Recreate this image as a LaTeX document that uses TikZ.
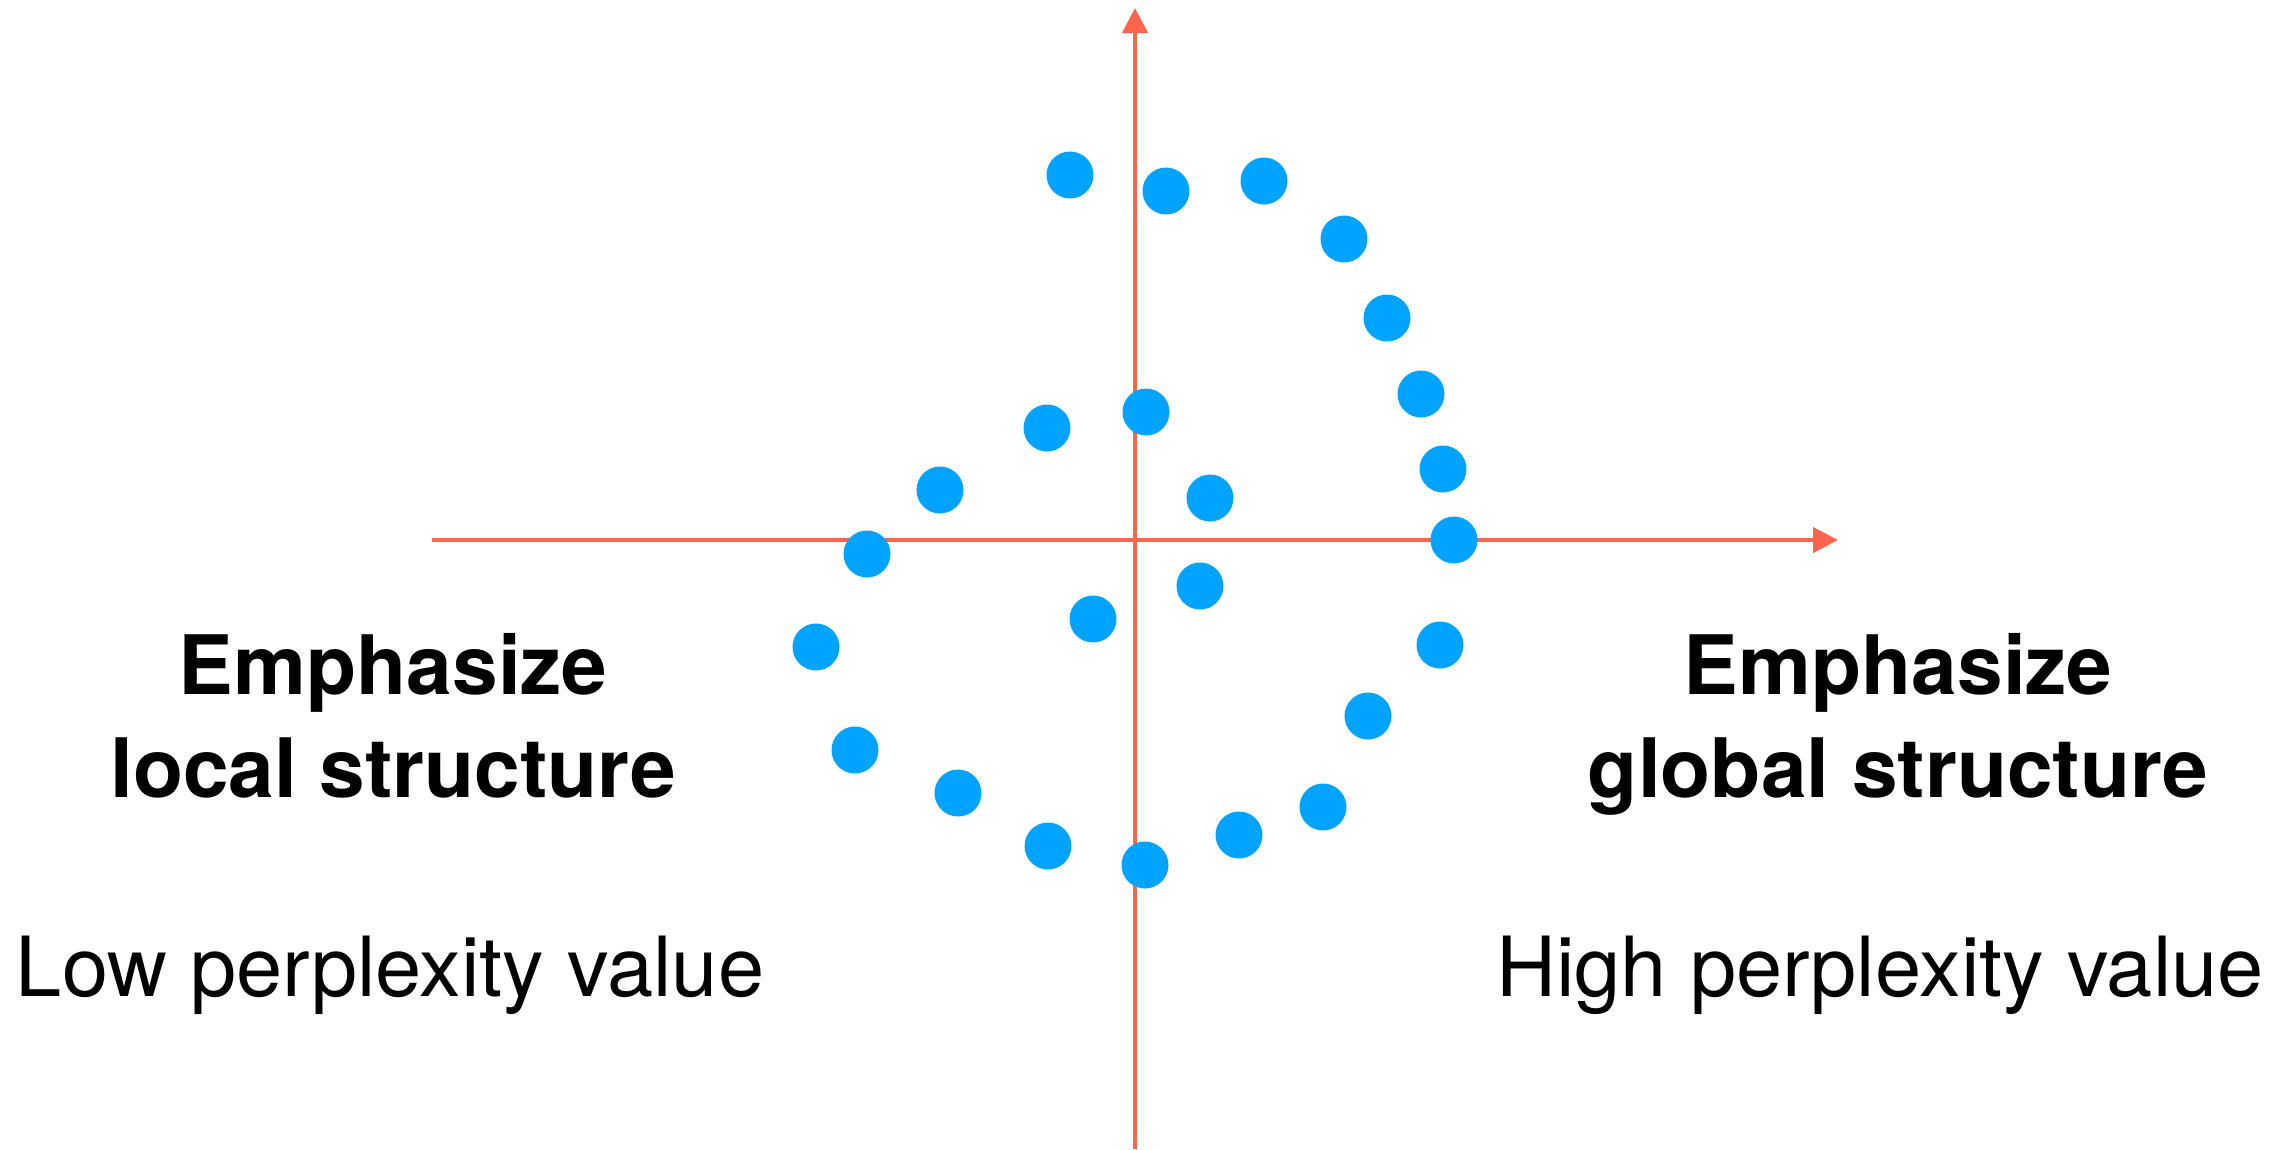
\documentclass[tikz,border=0pt]{standalone}
\usepackage{fontspec}
\setmainfont{TeX Gyre Heros}
\usetikzlibrary{arrows.meta}
\definecolor{axiscol}{RGB}{255,100,78}
\definecolor{dotcol}{RGB}{0,163,255}
\begin{document}
\begin{tikzpicture}[x=1pt,y=-1pt,
  dot/.style={circle,fill=dotcol,draw=none,minimum size=47pt,inner sep=0pt},
  axis/.style={draw=axiscol,line width=4.5pt,-{Triangle[length=25pt,width=25pt]}},
  boldlbl/.style={inner sep=0pt,anchor=base,font=\bfseries\fontsize{82}{98}\selectfont},
  thinlbl/.style={inner sep=0pt,anchor=base,font=\fontsize{83}{100}\selectfont}]
\useasboundingbox (0,0) rectangle (2287,1149);
\coordinate (yb) at (1135,1149);
\coordinate (yt) at (1135,8);
\coordinate (xl) at (432,540);
\coordinate (xr) at (1838,540);
\draw[axis] (yb) -- (yt);
\draw[axis] (xl) -- (xr);
\foreach \px/\py [count=\i] in {1070/175,1166/191,1264/181,1344/239,1387/318,1421/394,1443/469,1454/540,1440/645,1368/716,1323/807,1239/835,1145/865,1048/846,958/793,855/750,816/647,867/554,940/490,1047/428,1146/412,1210/498,1200/586,1093/619}
  \node[dot] (d\i) at (\px,\py) {};
\node[boldlbl] (l1) at (393,694) {Emphasize};
\node[boldlbl] (l2) at (393,797) {local structure};
\node[thinlbl] (l3) at (390,996) {Low perplexity value};
\node[boldlbl] (r1) at (1898,694) {Emphasize};
\node[boldlbl] (r2) at (1898,797) {global structure};
\node[thinlbl] (r3) at (1880,996) {High perplexity value};
\end{tikzpicture}
\end{document}
